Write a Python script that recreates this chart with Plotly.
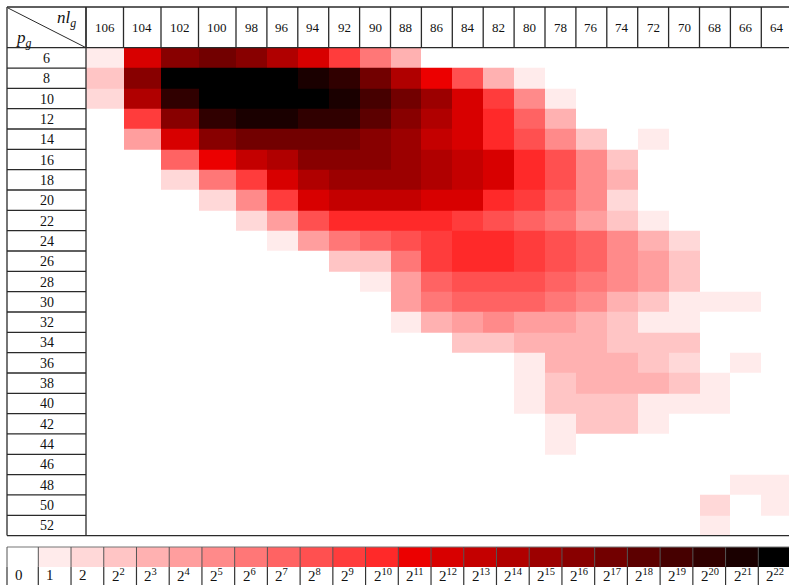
import plotly.graph_objects as go

# ---------------- data ----------------
nl_g = [106, 104, 102, 100, 98, 96, 94, 92, 90, 88, 86, 84, 82, 80, 78, 76, 74, 72, 70, 68, 66, 64]
p_g = [6, 8, 10, 12, 14, 16, 18, 20, 22, 24, 26, 28, 30, 32, 34, 36, 38, 40, 42, 44, 46, 48, 50, 52]

# level k: 0 -> count 0, k>=1 -> count bin 2^(k-1)
level = [
    [1, 13, 17, 18, 17, 15, 13, 10, 7, 4, 0, 0, 0, 0, 0, 0, 0, 0, 0, 0, 0, 0],      # 6
    [3, 17, 23, 23, 23, 23, 22, 21, 18, 15, 12, 9, 4, 1, 0, 0, 0, 0, 0, 0, 0, 0],   # 8
    [2, 15, 21, 23, 23, 23, 23, 22, 20, 18, 16, 13, 10, 6, 1, 0, 0, 0, 0, 0, 0, 0], # 10
    [0, 10, 17, 21, 22, 22, 21, 21, 19, 17, 15, 13, 11, 8, 4, 0, 0, 0, 0, 0, 0, 0], # 12
    [0, 5, 13, 17, 18, 18, 18, 18, 17, 16, 14, 13, 11, 9, 6, 3, 0, 1, 0, 0, 0, 0],  # 14
    [0, 0, 8, 12, 14, 15, 17, 17, 17, 16, 15, 14, 13, 11, 9, 6, 3, 0, 0, 0, 0, 0],  # 16
    [0, 0, 2, 7, 10, 13, 15, 16, 16, 16, 15, 14, 13, 11, 9, 6, 4, 0, 0, 0, 0, 0],   # 18
    [0, 0, 0, 2, 6, 10, 13, 14, 14, 14, 13, 13, 11, 10, 8, 6, 2, 0, 0, 0, 0, 0],    # 20
    [0, 0, 0, 0, 2, 5, 9, 11, 11, 11, 11, 10, 9, 8, 7, 5, 3, 1, 0, 0, 0, 0],        # 22
    [0, 0, 0, 0, 0, 1, 5, 7, 8, 9, 10, 11, 11, 10, 9, 8, 6, 4, 2, 0, 0, 0],         # 24
    [0, 0, 0, 0, 0, 0, 0, 3, 3, 7, 10, 11, 11, 10, 9, 8, 6, 5, 3, 0, 0, 0],         # 26
    [0, 0, 0, 0, 0, 0, 0, 0, 1, 5, 8, 9, 9, 9, 8, 7, 6, 5, 3, 0, 0, 0],             # 28
    [0, 0, 0, 0, 0, 0, 0, 0, 0, 5, 7, 8, 8, 8, 7, 6, 4, 3, 1, 1, 1, 0],             # 30
    [0, 0, 0, 0, 0, 0, 0, 0, 0, 1, 4, 5, 6, 5, 5, 4, 3, 1, 1, 0, 0, 0],             # 32
    [0, 0, 0, 0, 0, 0, 0, 0, 0, 0, 0, 3, 3, 4, 4, 4, 3, 3, 3, 0, 0, 0],             # 34
    [0, 0, 0, 0, 0, 0, 0, 0, 0, 0, 0, 0, 0, 1, 4, 4, 4, 3, 2, 0, 1, 0],             # 36
    [0, 0, 0, 0, 0, 0, 0, 0, 0, 0, 0, 0, 0, 1, 3, 4, 4, 4, 3, 1, 0, 0],             # 38
    [0, 0, 0, 0, 0, 0, 0, 0, 0, 0, 0, 0, 0, 1, 3, 3, 3, 1, 1, 1, 0, 0],             # 40
    [0, 0, 0, 0, 0, 0, 0, 0, 0, 0, 0, 0, 0, 0, 1, 3, 3, 1, 0, 0, 0, 0],             # 42
    [0, 0, 0, 0, 0, 0, 0, 0, 0, 0, 0, 0, 0, 0, 1, 0, 0, 0, 0, 0, 0, 0],             # 44
    [0, 0, 0, 0, 0, 0, 0, 0, 0, 0, 0, 0, 0, 0, 0, 0, 0, 0, 0, 0, 0, 0],             # 46
    [0, 0, 0, 0, 0, 0, 0, 0, 0, 0, 0, 0, 0, 0, 0, 0, 0, 0, 0, 0, 1, 1],             # 48
    [0, 0, 0, 0, 0, 0, 0, 0, 0, 0, 0, 0, 0, 0, 0, 0, 0, 0, 0, 2, 0, 1],             # 50
    [0, 0, 0, 0, 0, 0, 0, 0, 0, 0, 0, 0, 0, 0, 0, 0, 0, 0, 0, 1, 0, 0],             # 52
]

legend_labels = ["0", "1", "2"] + ["2<sup>%d</sup>" % k for k in range(2, 23)]
legend_levels = list(range(24))

# ---------------- style / layout ----------------
colors = [
    "#ffffff", "#ffebeb", "#ffd8d8", "#ffc5c5", "#ffb1b1", "#ff9e9e", "#ff8a8a",
    "#ff7777", "#ff6363", "#ff5050", "#ff3c3c", "#ff2929", "#ec0000", "#d80000",
    "#c40000", "#b00000", "#9c0000", "#880000", "#720000", "#5c0000", "#460000",
    "#300000", "#1a0000", "#000000",
]
n = len(colors)
cscale = []
for i, c in enumerate(colors):
    cscale.append([i / n, c])
    cscale.append([(i + 1) / n, c])

W, H = 789, 585
LEFT, LABEL_R = 7.0, 86.0
TOP, HEAD_B = 7.0, 47.7
ROW_H = 20.33
wide_w, narrow_w = 37.5, 30.9

col_edges = [LABEL_R]
for i in range(len(nl_g)):
    col_edges.append(col_edges[-1] + (wide_w if i < 4 else narrow_w))
row_edges = [HEAD_B + i * ROW_H for i in range(len(p_g) + 1)]
BOTTOM = row_edges[-1]

LEG_T, LEG_M, LEG_B = 547.0, 566.7, 586.0
leg_step = (758.3 - 38.3) / 22
leg_edges = [LEFT, 38.3] + [38.3 + leg_step * (i + 1) for i in range(23)]

fig = go.Figure()
fig.add_trace(go.Heatmap(
    z=level, x=col_edges, y=row_edges, colorscale=cscale, zmin=-0.5, zmax=n - 0.5,
    showscale=False, hoverinfo="skip",
))
fig.add_trace(go.Heatmap(
    z=[legend_levels], x=leg_edges, y=[LEG_T, LEG_M], colorscale=cscale,
    zmin=-0.5, zmax=n - 0.5, showscale=False, hoverinfo="skip",
))

shapes = []
LC = "#2a2a2a"
LW = 1.3


def line(x0, y0, x1, y1, color=LC, width=LW):
    shapes.append(dict(type="line", x0=x0, y0=y0, x1=x1, y1=y1, xref="x", yref="y",
                       line=dict(color=color, width=width)))


# header box
line(LEFT, TOP, W + 5, TOP)
line(LEFT, HEAD_B, W + 5, HEAD_B)
for xe in col_edges[:-1]:
    line(xe, TOP, xe, HEAD_B)
line(LEFT, TOP, LEFT, BOTTOM)
line(LABEL_R, TOP, LABEL_R, BOTTOM)
for ye in row_edges[1:-1]:
    line(LEFT, ye, LABEL_R, ye)
line(LEFT, BOTTOM, W + 5, BOTTOM)
# diagonal corner
line(LEFT + 1, TOP + 1, LABEL_R, HEAD_B, width=1.0)

# legend borders
line(LEFT, LEG_T, W + 5, LEG_T, color="#777777", width=1.2)
for xe in leg_edges[:-1]:
    line(xe, LEG_T, xe, LEG_M, color="#555555", width=1.0)
    line(xe, LEG_M, xe, LEG_B, color="#333333", width=1.2)

annotations = []
FONT = "Liberation Serif, DejaVu Serif, serif"
for i, v in enumerate(nl_g):
    annotations.append(dict(x=(col_edges[i] + col_edges[i + 1]) / 2, y=(TOP + HEAD_B) / 2 + 0.5,
                            text=str(v), showarrow=False, xref="x", yref="y",
                            font=dict(family=FONT, size=13, color="#111111")))
for j, v in enumerate(p_g):
    annotations.append(dict(x=(LEFT + LABEL_R) / 2, y=(row_edges[j] + row_edges[j + 1]) / 2 + 0.5,
                            text=str(v), showarrow=False, xref="x", yref="y",
                            font=dict(family=FONT, size=14, color="#111111")))
annotations.append(dict(x=78, y=19, text="<i>nl</i><sub><i>g</i></sub>", showarrow=False,
                        xref="x", yref="y", xanchor="right",
                        font=dict(family=FONT, size=17, color="#111111")))
annotations.append(dict(x=14, y=39, text="<i>p</i><sub><i>g</i></sub>", showarrow=False,
                        xref="x", yref="y", xanchor="left",
                        font=dict(family=FONT, size=17, color="#111111")))
for k, lab in enumerate(legend_labels):
    annotations.append(dict(x=leg_edges[k] + 6, y=(LEG_M + LEG_B) / 2 - 1.5, text=lab, showarrow=False,
                            xref="x", yref="y", xanchor="left",
                            font=dict(family=FONT, size=15, color="#111111")))

fig.update_layout(
    width=W, height=H, margin=dict(l=0, r=0, t=0, b=0),
    paper_bgcolor="white", plot_bgcolor="white",
    xaxis=dict(range=[0, W], visible=False, fixedrange=True),
    yaxis=dict(range=[H, 0], visible=False, fixedrange=True),
    shapes=shapes, annotations=annotations, showlegend=False,
)
fig.write_html("out.html", config={"displayModeBar": False},
               post_script="document.body.style.margin='0px';document.body.style.overflow='hidden';")
